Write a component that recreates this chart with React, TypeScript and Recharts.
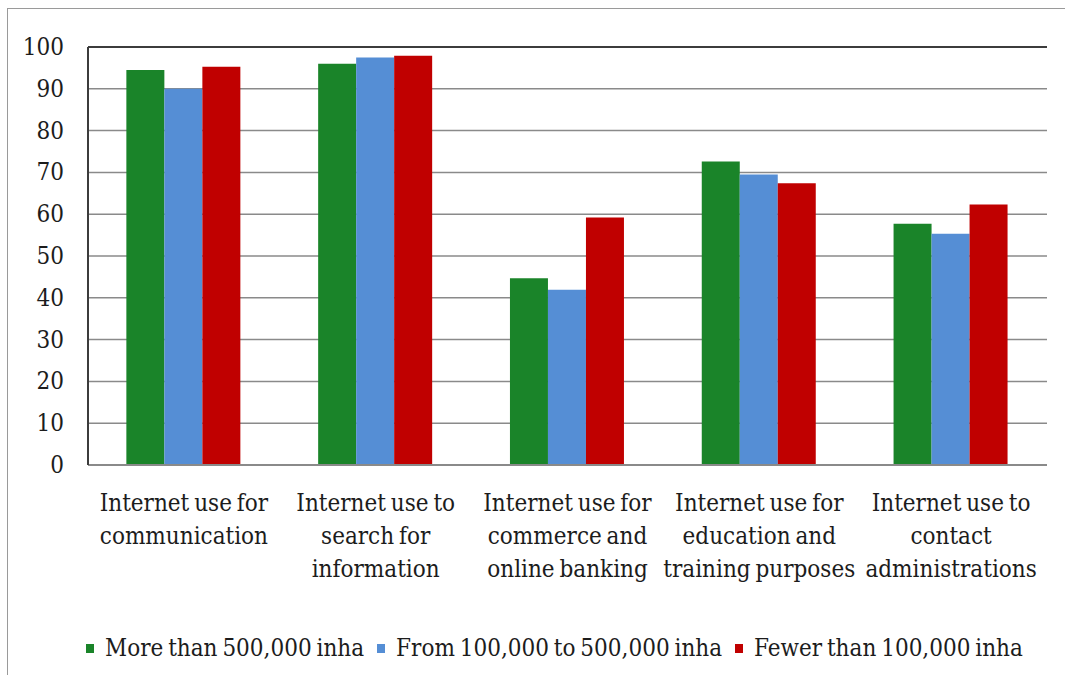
import React from 'react';
import { BarChart, Bar, XAxis, YAxis, CartesianGrid, Legend, ReferenceLine } from 'recharts';

const categories = [
  'Internet use for\ncommunication',
  'Internet use to\nsearch for\ninformation',
  'Internet use for\ncommerce and\nonline banking',
  'Internet use for\neducation and\ntraining purposes',
  'Internet use to\ncontact\nadministrations',
];

const largeCities = [94.5, 96, 44.7, 72.6, 57.7];
const midCities = [90, 97.5, 41.9, 69.5, 55.3];
const smallCities = [95.3, 97.9, 59.2, 67.4, 62.3];

const yTicks = [0, 10, 20, 30, 40, 50, 60, 70, 80, 90, 100];

const seriesInfo = [
  { key: 'large', name: 'More than 500,000 inha', color: '#1a8429' },
  { key: 'mid', name: 'From 100,000 to 500,000 inha', color: '#558ed5' },
  { key: 'small', name: 'Fewer than 100,000 inha', color: '#c00000' },
];

const data = categories.map((name, i) => ({
  name,
  large: largeCities[i],
  mid: midCities[i],
  small: smallCities[i],
}));

const FONT = 'DejaVu Serif Condensed';
const TEXT = '#1c1c1c';

// multi-line category label, one tspan per line
const CategoryTick = ({ x, y, payload }: any) => {
  const lines = String(payload.value).split('\n');
  return (
    <text
      x={x}
      y={y}
      textAnchor="middle"
      fill={TEXT}
      fontSize={24}
      style={{ fontFamily: FONT, wordSpacing: -2 }}
    >
      {lines.map((line, i) => (
        <tspan key={i} x={x} dy={i === 0 ? 46 : 33}>
          {line}
        </tspan>
      ))}
    </text>
  );
};

const ValueTick = ({ x, y, payload }: any) => (
  <text x={x} y={y} dy={8} textAnchor="end" fill={TEXT} fontSize={24} style={{ fontFamily: FONT }}>
    {payload.value}
  </text>
);

const LegendContent = () => (
  <div
    style={{
      height: 40,
      display: 'flex',
      alignItems: 'center',
      justifyContent: 'center',
      paddingLeft: 34,
      fontFamily: FONT,
      fontSize: 24,
      wordSpacing: -2,
      color: TEXT,
      whiteSpace: 'nowrap',
    }}
  >
    {seriesInfo.map((s, i) => (
      <span
        key={s.key}
        style={{ display: 'flex', alignItems: 'center', marginRight: i < seriesInfo.length - 1 ? 13 : 0 }}
      >
        <span style={{ width: 8, height: 9, background: s.color, marginRight: 11, display: 'inline-block' }} />
        {s.name}
      </span>
    ))}
  </div>
);

export default function App() {
  return (
    <div style={{ position: 'fixed', left: 0, top: 0, width: 1065, height: 675, background: '#fff' }}>
      <div
        style={{
          position: 'absolute',
          left: 7,
          top: 8,
          width: 1070,
          height: 680,
          borderLeft: '1.5px solid #9a9a9a',
          borderTop: '1.5px solid #9a9a9a',
        }}
      />
      <BarChart
        width={1065}
        height={675}
        data={data}
        margin={{ top: 47, right: 18, left: 28, bottom: 7 }}
        barCategoryGap="20%"
        barGap={0}
        style={{ position: 'absolute', left: 0, top: 0 }}
      >
        <CartesianGrid vertical={false} stroke="#8a8a8a" strokeWidth={1.5} />
        <XAxis
          dataKey="name"
          height={163}
          interval={0}
          tick={<CategoryTick />}
          tickLine={false}
          tickSize={0}
          tickMargin={0}
          axisLine={{ stroke: '#8a8a8a', strokeWidth: 2 }}
        />
        <YAxis
          domain={[0, 100]}
          ticks={yTicks}
          width={60}
          tickLine={false}
          tickSize={0}
          tickMargin={24}
          axisLine={{ stroke: '#3c3c3c', strokeWidth: 2 }}
          tick={<ValueTick />}
        />
        <YAxis
          yAxisId="frame"
          orientation="right"
          domain={[0, 100]}
          width={0}
          tick={false}
          tickLine={false}
          axisLine={{ stroke: '#3c3c3c', strokeWidth: 2 }}
        />
        <ReferenceLine y={100} stroke="#3c3c3c" strokeWidth={2} />
        <Legend verticalAlign="bottom" content={<LegendContent />} />
        {seriesInfo.map((s) => (
          <Bar key={s.key} dataKey={s.key} name={s.name} fill={s.color} isAnimationActive={false} />
        ))}
      </BarChart>
    </div>
  );
}
